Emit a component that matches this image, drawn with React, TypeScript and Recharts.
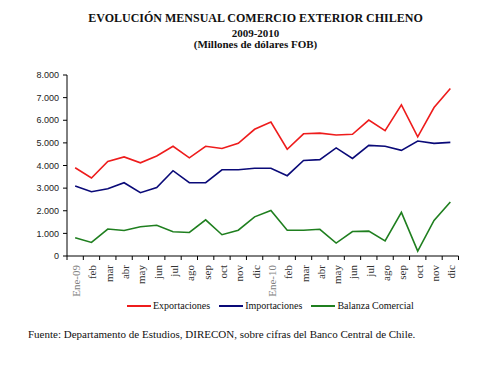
import React from "react";
import { LineChart, Line, XAxis, YAxis } from "recharts";

const categories = [
  "Ene-09", "feb", "mar", "abr", "may", "jun", "jul", "ago", "sep", "oct", "nov", "dic",
  "Ene-10", "feb", "mar", "abr", "may", "jun", "jul", "ago", "sep", "oct", "nov", "dic",
];
const exportaciones = [
  3900, 3450, 4180, 4380, 4120, 4420, 4850, 4340, 4850, 4750, 4980, 5600,
  5920, 4720, 5400, 5430, 5350, 5380, 6010, 5540, 6680, 5270, 6560, 7400,
];
const importaciones = [
  3090, 2840, 2970, 3240, 2800, 3030, 3770, 3240, 3240, 3810, 3810, 3880,
  3880, 3550, 4220, 4260, 4780, 4310, 4890, 4850, 4670, 5080, 4980, 5020,
];
const balanza = [
  810, 600, 1190, 1130, 1290, 1360, 1070, 1040, 1600, 940, 1140, 1730,
  2010, 1140, 1140, 1180, 570, 1080, 1100, 670, 1930, 220, 1570, 2390,
];
const yTicks = [0, 1000, 2000, 3000, 4000, 5000, 6000, 7000, 8000];
const titleLines = [
  "EVOLUCIÓN MENSUAL COMERCIO EXTERIOR CHILENO",
  "2009-2010",
  "(Millones de dólares FOB)",
];
const seriesDefs = [
  { key: "exp", name: "Exportaciones", color: "#ee1c1c", values: exportaciones },
  { key: "imp", name: "Importaciones", color: "#0a0a78", values: importaciones },
  { key: "bal", name: "Balanza Comercial", color: "#1f7f1f", values: balanza },
];
const sourceText =
  "Fuente: Departamento de Estudios, DIRECON, sobre cifras del Banco Central de Chile.";

const data = categories.map((c, i) => {
  const row: any = { cat: `${c}#${i}` };
  seriesDefs.forEach((s) => (row[s.key] = s.values[i]));
  return row;
});

const W = 503;
const H = 377;
const PLOT_LEFT = 67;
const PLOT_RIGHT = 458.5;
const BAND = (PLOT_RIGHT - PLOT_LEFT) / categories.length;
const serif = "'Liberation Serif', 'Times New Roman', serif";

const fmt = (v: number) => v.toString().replace(/\B(?=(\d{3})+(?!\d))/g, ".");

const XTick = (props: any) => {
  const { x, y, payload } = props;
  const idx = payload.index;
  const label = categories[idx];
  const isYear = label.startsWith("Ene");
  return (
    <g>
      <line x1={x - BAND / 2} x2={x - BAND / 2} y1={y - 4} y2={y} stroke="#000" strokeWidth={1} />
      {idx === categories.length - 1 && (
        <line x1={x + BAND / 2} x2={x + BAND / 2} y1={y - 4} y2={y} stroke="#000" strokeWidth={1} />
      )}
      <text
        transform={`translate(${x + 5}, ${y + 5}) rotate(-90)`}
        textAnchor="end"
        fontFamily={serif}
        fontSize={11}
        fill={isYear ? "#808080" : "#333"}
      >
        {label}
      </text>
    </g>
  );
};

export default function App() {
  return (
    <div style={{ position: "absolute", left: 0, top: 0, width: W, height: H, background: "#fff" }}>
      {titleLines.map((t, i) => (
        <div
          key={i}
          style={{
            position: "absolute",
            left: 0,
            width: 511,
            top: [11, 26, 37][i],
            textAlign: "center",
            fontFamily: serif,
            fontWeight: "bold",
            fontSize: i === 0 ? 12 : 11,
            lineHeight: "14px",
            color: "#111",
          }}
        >
          {t}
        </div>
      ))}
      <div style={{ position: "absolute", left: 0, top: 0 }}>
        <LineChart
          width={W}
          height={H}
          data={data}
          margin={{ top: 75, right: W - PLOT_RIGHT, left: PLOT_LEFT - 60, bottom: 71 }}
        >
          <XAxis
            dataKey="cat"
            scale="band"
            height={50}
            interval={0}
            tickLine={false}
            tickSize={4}
            tickMargin={0}
            axisLine={{ stroke: "#000", strokeWidth: 1 }}
            tick={<XTick />}
          />
          <YAxis
            width={60}
            domain={[0, 8000]}
            ticks={yTicks}
            interval={0}
            tickSize={4}
            tickMargin={4}
            tickFormatter={fmt}
            axisLine={{ stroke: "#000", strokeWidth: 1 }}
            tickLine={{ stroke: "#000", strokeWidth: 1 }}
            tick={{ fontFamily: "'Liberation Sans', Arial, sans-serif", fontSize: 9, fill: "#222" }}
          />
          {seriesDefs.map((s) => (
            <Line
              key={s.key}
              type="linear"
              dataKey={s.key}
              name={s.name}
              stroke={s.color}
              strokeWidth={1.6}
              dot={false}
              activeDot={false}
              isAnimationActive={false}
            />
          ))}
        </LineChart>
      </div>
      <div
        style={{
          position: "absolute",
          left: 127,
          top: 299,
          display: "flex",
          alignItems: "center",
          fontFamily: serif,
          fontSize: 10,
          color: "#111",
          whiteSpace: "nowrap",
        }}
      >
        {seriesDefs.map((s) => (
          <div key={s.key} style={{ display: "flex", alignItems: "center", marginRight: 9 }}>
            <div style={{ width: 24, height: 2, background: s.color, marginRight: 2 }} />
            <span style={{ lineHeight: "14px" }}>{s.name}</span>
          </div>
        ))}
      </div>
      <div
        style={{
          position: "absolute",
          left: 28,
          top: 326,
          fontFamily: serif,
          fontSize: 11,
          lineHeight: "16px",
          color: "#111",
          whiteSpace: "nowrap",
        }}
      >
        {sourceText}
      </div>
    </div>
  );
}
